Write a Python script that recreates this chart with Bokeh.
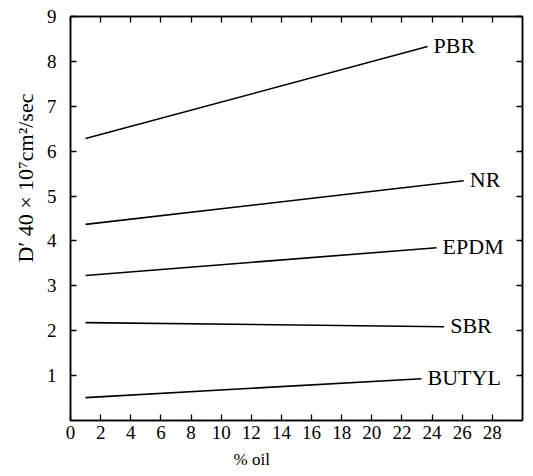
from bokeh.plotting import figure
from bokeh.models import LinearAxis, FixedTicker, Title, Range1d
from bokeh.core.properties import value
from bokeh.embed import file_html
from bokeh.resources import INLINE

# ---- data ----
series_names = ["PBR", "NR", "EPDM", "SBR", "BUTYL"]
oil_start = [1.0, 1.0, 1.0, 1.0, 1.0]
oil_end = [23.7, 26.1, 24.3, 24.8, 23.3]
d_start = [6.28, 4.37, 3.23, 2.18, 0.51]
d_end = [8.33, 5.34, 3.85, 2.09, 0.93]

x_ticks = list(range(0, 29, 2))
y_ticks = list(range(1, 10))
x_label = "% oil"
y_label = "D′  40 × 10⁷cm²/sec"

FONT = "Liberation Serif"

p = figure(frame_width=452, frame_height=404,
           x_range=Range1d(0, 30), y_range=Range1d(0, 9),
           output_backend="svg", toolbar_location=None,
           min_border_left=70, min_border_right=9,
           min_border_top=16, min_border_bottom=56)
p.grid.visible = False
p.background_fill_color = "white"
p.outline_line_color = "black"
p.outline_line_width = 1.5


def style_axis(ax, ticks, show_labels=True, standoff=5):
    ax.axis_line_color = "black"
    ax.axis_line_width = 1.5
    ax.major_tick_in = 6
    ax.major_tick_out = 0
    ax.major_tick_line_width = 1.3
    ax.major_tick_line_color = "black"
    ax.minor_tick_in = 0
    ax.minor_tick_out = 0
    ax.major_label_text_font = FONT
    ax.major_label_text_color = "black"
    ax.major_label_text_font_size = "19px"
    if show_labels:
        ax.major_label_standoff = standoff
    else:
        ax.major_label_overrides = {t: "" for t in ticks}
        ax.major_label_standoff = 0


p.xaxis.ticker = FixedTicker(ticks=x_ticks)
p.yaxis.ticker = FixedTicker(ticks=y_ticks)
style_axis(p.xaxis[0], x_ticks)
style_axis(p.yaxis[0], y_ticks, standoff=14)

top = LinearAxis(ticker=FixedTicker(ticks=x_ticks))
style_axis(top, x_ticks, False)
p.add_layout(top, "above")
right = LinearAxis(ticker=FixedTicker(ticks=y_ticks))
style_axis(right, y_ticks, False)
p.add_layout(right, "right")

for name, x0, x1, y0, y1 in zip(series_names, oil_start, oil_end, d_start, d_end):
    p.line([x0, x1], [y0, y1], line_color="black", line_width=1.6)
    p.text(x=[x1], y=[y1], text=[name], x_offset=6, y_offset=-1,
           text_font=value(FONT), text_font_size="22px",
           text_align="left", text_baseline="middle", text_color="black")

xt = Title(text=x_label, align="left", offset=163, standoff=12,
           text_font=FONT, text_font_size="17px", text_font_style="normal",
           text_color="black")
p.add_layout(xt, "below")
yt = Title(text=y_label, align="left", offset=158, standoff=8,
           vertical_align="top",
           text_font=FONT, text_font_size="22px", text_font_style="normal",
           text_color="black")
p.add_layout(yt, "left")

open("out.html", "w").write(file_html(p, INLINE))
